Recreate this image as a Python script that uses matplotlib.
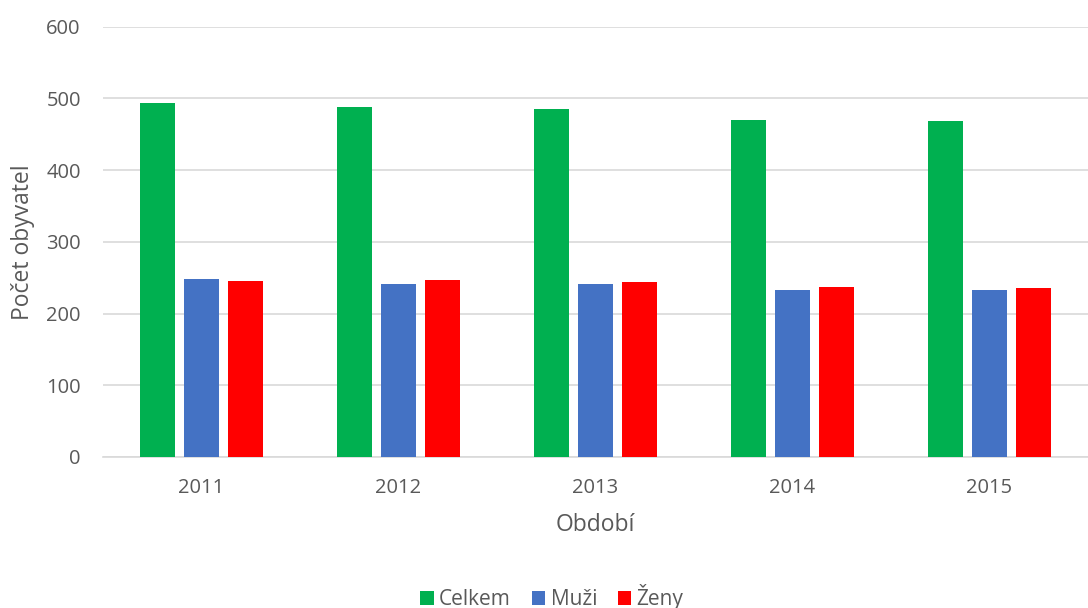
import matplotlib.pyplot as plt
import numpy as np

years = ['2011', '2012', '2013', '2014', '2015']
celkem = [493, 488, 485, 470, 468]
muzi = [248, 241, 241, 233, 233]
zeny = [245, 247, 244, 237, 235]

series = [('Celkem', celkem, '#00B050'),
          ('Muži', muzi, '#4472C4'),
          ('Ženy', zeny, '#FF0000')]

plt.rcParams['font.family'] = ['Open Sans', 'DejaVu Sans']
grey = '#595959'

fig = plt.figure(figsize=(10.88, 6.08), dpi=100)
ax = fig.add_axes([103/1088, 1 - 457/608, 985/1088, (457-26.5)/608])

x = np.arange(len(years))
w = 0.177
step = 0.222
for i, (name, vals, col) in enumerate(series):
    ax.bar(x + (i - 1) * step, vals, width=w, color=col, label=name, zorder=3)

ax.set_xlim(-0.5, 4.5)
ax.set_ylim(0, 600)
ax.set_yticks(range(0, 601, 100))
ax.set_xticks(x)
ax.set_xticklabels(years)
ax.grid(axis='y', color='#d9d9d9', linewidth=1.2, zorder=0)
for s in ['top', 'right', 'left']:
    ax.spines[s].set_visible(False)
ax.spines['bottom'].set_color('#d9d9d9')
ax.spines['bottom'].set_linewidth(1.2)
ax.tick_params(axis='y', length=0, pad=16, labelsize=14.5, labelcolor=grey)
ax.tick_params(axis='x', length=0, pad=15, labelsize=14.5, labelcolor=grey)

ax.set_ylabel('Počet obyvatel', fontsize=16.5, color=grey, labelpad=8)
ax.set_xlabel('Období', fontsize=16.5, color=grey, labelpad=11)

fig.legend(loc='center', bbox_to_anchor=(552/1088, 1 - 597/608), ncol=3,
           frameon=False, fontsize=15, labelcolor=grey, handlelength=0.65,
           handleheight=0.65, handletextpad=0.25, columnspacing=1.0)

fig.savefig('out.png', dpi=100)
